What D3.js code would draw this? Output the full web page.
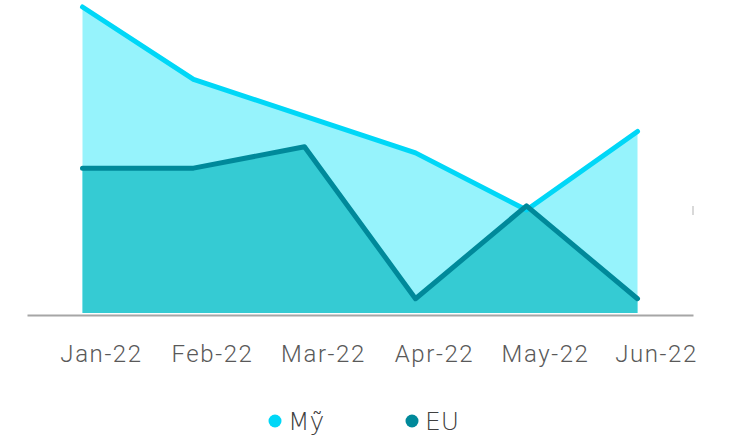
<!DOCTYPE html>
<html>
<head>
<meta charset="utf-8">
<script src="https://cdn.jsdelivr.net/npm/d3@7"></script>
<style>
  body { margin: 0; background: #fff; }
</style>
</head>
<body>
<div id="chart"></div>
<script>
const months = ["Jan-22", "Feb-22", "Mar-22", "Apr-22", "May-22", "Jun-22"];
const my = [300, 229, 193, 157, 101, 178];
const eu = [142, 142, 163, 14, 105, 14];
const seriesNames = ["Mỹ", "EU"];

const width = 738;
const height = 438;

const svg = d3.select("#chart")
  .append("svg")
  .attr("width", width)
  .attr("height", height);

const x = d3.scaleBand().domain(months).range([27, 693]);
const cx = (d) => x(d) + x.bandwidth() / 2;
const y = d3.scaleLinear().domain([0, 300]).range([313, 7]);

const rows = months.map((m, i) => ({ m, my: my[i], eu: eu[i] }));

// areas
const area = (key) => d3.area().x((d) => cx(d.m)).y0(y(0)).y1((d) => y(d[key]));
const line = (key) => d3.line().x((d) => cx(d.m)).y((d) => y(d[key]));

svg.append("path").datum(rows).attr("fill", "#96F3FC").attr("d", area("my"));
svg.append("path").datum(rows).attr("fill", "#35CBD3").attr("d", area("eu"));

svg.append("path").datum(rows)
  .attr("fill", "none").attr("stroke", "#00D7F7").attr("stroke-width", 5)
  .attr("stroke-linecap", "round").attr("stroke-linejoin", "round")
  .attr("d", line("my"));
svg.append("path").datum(rows)
  .attr("fill", "none").attr("stroke", "#00899A").attr("stroke-width", 5)
  .attr("stroke-linecap", "round").attr("stroke-linejoin", "round")
  .attr("d", line("eu"));

// small gridline stub at the right edge
svg.append("line")
  .attr("x1", x.range()[1]).attr("x2", x.range()[1])
  .attr("y1", y(105)).attr("y2", y(96))
  .attr("stroke", "#d9d9d9").attr("stroke-width", 2);

// x axis
const axis = svg.append("g")
  .attr("transform", `translate(0,${y(0) + 2})`)
  .call(d3.axisBottom(x).tickSize(0).tickPadding(30));
axis.select(".domain").attr("stroke", "#a6a6a6").attr("stroke-width", 2);
axis.selectAll("text")
  .attr("dx", 19)
  .attr("fill", "#595959")
  .style("font-family", "Roboto")
  .style("font-weight", 300)
  .style("letter-spacing", "1.6px")
  .style("font-size", "24px");

// legend
const legendColors = ["#00D7F7", "#00899A"];
const legend = svg.append("g")
  .selectAll("g")
  .data(seriesNames)
  .enter()
  .append("g")
  .attr("transform", (d, i) => `translate(${275 + i * 137},421)`);
legend.append("circle").attr("r", 6.5).attr("fill", (d, i) => legendColors[i]);
legend.append("text")
  .attr("x", 13).attr("dy", "0.36em")
  .attr("fill", "#404040")
  .style("font-family", "DejaVu Sans")
  .style("font-weight", 300)
  .style("font-size", "25px")
  .text((d) => d);
</script>
</body>
</html>
